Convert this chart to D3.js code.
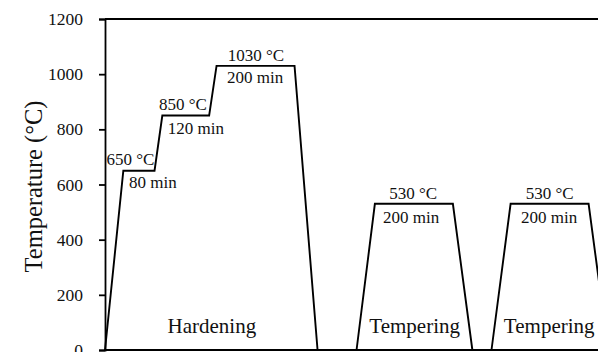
<!DOCTYPE html>
<html>
<head>
<meta charset="utf-8">
<script src="https://cdn.jsdelivr.net/npm/d3@7"></script>
<style>
  html, body { margin: 0; padding: 0; background: #fff; }
  svg { display: block; }
  text { font-family: "Liberation Serif", "Times New Roman", serif; fill: #111; }
</style>
</head>
<body>
<svg id="chart" width="598" height="352"></svg>
<script>
// ---- data (time in minutes, temperature in °C) ----
const hardeningTime = [0, 47, 127, 147, 267, 286, 486, 545];
const hardeningTemp = [0, 650, 650, 850, 850, 1030, 1030, 0];
const tempering1Time = [645, 692, 892, 942];
const tempering1Temp = [0, 530, 530, 0];
const tempering2Time = [991, 1040, 1240, 1290];
const tempering2Temp = [0, 530, 530, 0];
const yTicks = [0, 200, 400, 600, 800, 1000, 1200];
const yTitle = "Temperature (°C)";
// annotation texts anchored at [time, temperature]
const annotText = ["650 °C", "80 min", "850 °C", "120 min", "1030 °C", "200 min",
                   "530 °C", "200 min", "530 °C", "200 min"];
const annotTime = [65, 123, 200, 233, 387, 385, 790, 785, 1140, 1139];
const annotTemp = [671, 586, 870, 783, 1049, 967, 546, 459, 546, 459];
const stageText = ["Hardening", "Tempering", "Tempering"];
const stageTime = [274, 794, 1139];
const stageTemp = [63, 63, 63];

// ---- layout ----
const svg = d3.select("#chart");
const W = 598, H = 352;
const mLeft = 105, mTop = 19, mBottom = 350;
const x = d3.scaleLinear().domain([0, 1290]).range([mLeft, 608.1]);
const y = d3.scaleLinear().domain([0, 1200]).range([mBottom, mTop]);

// frame lines (top & bottom)
svg.append("line")
  .attr("x1", x(0)).attr("x2", W + 5)
  .attr("y1", y(1200)).attr("y2", y(1200))
  .attr("stroke", "#000").attr("stroke-width", 1.8);
svg.append("line")
  .attr("x1", x(0)).attr("x2", W + 5)
  .attr("y1", y(0)).attr("y2", y(0))
  .attr("stroke", "#000").attr("stroke-width", 1.8);

// y axis
const yAxis = d3.axisLeft(y).tickValues(yTicks).tickSize(6).tickPadding(16)
  .tickFormat(d3.format("d"));
const gy = svg.append("g").attr("transform", `translate(${mLeft},0)`).call(yAxis);
gy.attr("font-family", null).attr("font-size", null);
gy.select(".domain").attr("stroke", "#000").attr("stroke-width", 1.8);
gy.selectAll(".tick line").attr("stroke", "#000").attr("stroke-width", 1.8);
gy.selectAll(".tick text")
  .attr("font-family", '"Liberation Serif", serif')
  .style("font-family", '"Liberation Serif", serif')
  .style("font-size", "17.5px").attr("fill", "#111");

// y title
svg.append("text")
  .attr("transform", `translate(${42},${(mTop + mBottom) / 2 + 2}) rotate(-90)`)
  .attr("text-anchor", "middle")
  .style("font-size", "24.5px")
  .text(yTitle);

// profile lines
const line = d3.line().x(d => x(d[0])).y(d => y(d[1]));
const series = [
  d3.zip(hardeningTime, hardeningTemp),
  d3.zip(tempering1Time, tempering1Temp),
  d3.zip(tempering2Time, tempering2Temp)
];
svg.selectAll("path.profile").data(series).join("path")
  .attr("class", "profile")
  .attr("d", line)
  .attr("fill", "none")
  .attr("stroke", "#000")
  .attr("stroke-width", 1.9)
  .attr("stroke-linejoin", "miter");

// annotations
svg.selectAll("text.annot").data(d3.range(annotText.length)).join("text")
  .attr("class", "annot")
  .attr("x", i => x(annotTime[i]))
  .attr("y", i => y(annotTemp[i]))
  .attr("text-anchor", "middle")
  .style("font-size", "17px")
  .text(i => annotText[i]);

svg.selectAll("text.stage").data(d3.range(stageText.length)).join("text")
  .attr("class", "stage")
  .attr("x", i => x(stageTime[i]))
  .attr("y", i => y(stageTemp[i]))
  .attr("text-anchor", "middle")
  .style("font-size", "21px")
  .text(i => stageText[i]);
</script>
</body>
</html>
